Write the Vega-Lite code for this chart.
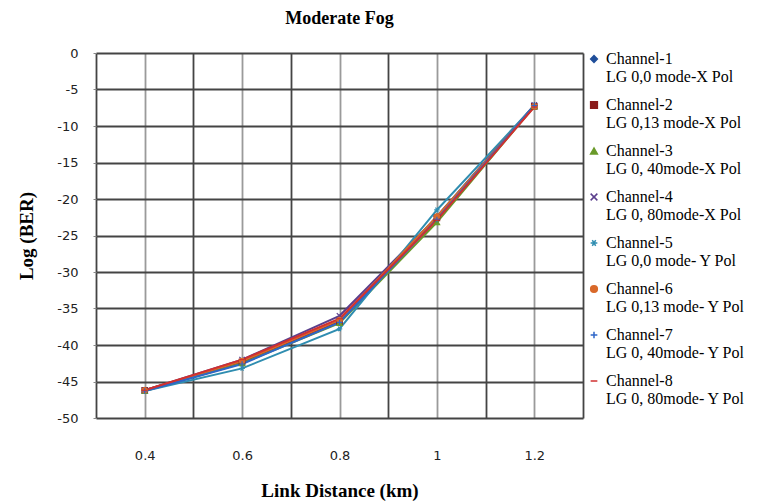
{
  "$schema": "https://vega.github.io/schema/vega-lite/v6.json",
  "autosize": "none",
  "width": 487,
  "height": 365,
  "padding": {"left": 96, "top": 53, "right": 178, "bottom": 83},
  "background": "white",
  "title": {"text": "Moderate Fog", "font": "Liberation Serif", "fontSize": 18, "fontWeight": "bold", "color": "#000", "anchor": "middle", "offset": 19},
  "data": {"values": [
    {"d": 0.4, "ch": "Channel-1", "v": -46.2}, {"d": 0.6, "ch": "Channel-1", "v": -42.3}, {"d": 0.8, "ch": "Channel-1", "v": -36.8}, {"d": 1.0, "ch": "Channel-1", "v": -22.4}, {"d": 1.2, "ch": "Channel-1", "v": -7.2},
    {"d": 0.4, "ch": "Channel-2", "v": -46.2}, {"d": 0.6, "ch": "Channel-2", "v": -42.3}, {"d": 0.8, "ch": "Channel-2", "v": -36.8}, {"d": 1.0, "ch": "Channel-2", "v": -22.6}, {"d": 1.2, "ch": "Channel-2", "v": -7.3},
    {"d": 0.4, "ch": "Channel-3", "v": -46.3}, {"d": 0.6, "ch": "Channel-3", "v": -42.5}, {"d": 0.8, "ch": "Channel-3", "v": -37.0}, {"d": 1.0, "ch": "Channel-3", "v": -23.2}, {"d": 1.2, "ch": "Channel-3", "v": -7.3},
    {"d": 0.4, "ch": "Channel-4", "v": -46.2}, {"d": 0.6, "ch": "Channel-4", "v": -42.0}, {"d": 0.8, "ch": "Channel-4", "v": -36.0}, {"d": 1.0, "ch": "Channel-4", "v": -22.5}, {"d": 1.2, "ch": "Channel-4", "v": -7.1},
    {"d": 0.4, "ch": "Channel-5", "v": -46.3}, {"d": 0.6, "ch": "Channel-5", "v": -43.2}, {"d": 0.8, "ch": "Channel-5", "v": -37.8}, {"d": 1.0, "ch": "Channel-5", "v": -21.5}, {"d": 1.2, "ch": "Channel-5", "v": -7.2},
    {"d": 0.4, "ch": "Channel-6", "v": -46.2}, {"d": 0.6, "ch": "Channel-6", "v": -42.2}, {"d": 0.8, "ch": "Channel-6", "v": -36.6}, {"d": 1.0, "ch": "Channel-6", "v": -22.4}, {"d": 1.2, "ch": "Channel-6", "v": -7.3},
    {"d": 0.4, "ch": "Channel-7", "v": -46.3}, {"d": 0.6, "ch": "Channel-7", "v": -42.6}, {"d": 0.8, "ch": "Channel-7", "v": -36.9}, {"d": 1.0, "ch": "Channel-7", "v": -22.8}, {"d": 1.2, "ch": "Channel-7", "v": -7.2},
    {"d": 0.4, "ch": "Channel-8", "v": -46.2}, {"d": 0.6, "ch": "Channel-8", "v": -42.0}, {"d": 0.8, "ch": "Channel-8", "v": -36.4}, {"d": 1.0, "ch": "Channel-8", "v": -22.9}, {"d": 1.2, "ch": "Channel-8", "v": -7.4}
  ]},
  "encoding": {
    "x": {"field": "d", "type": "quantitative", "scale": {"domain": [0.3, 1.3], "nice": false, "zero": false},
      "axis": {"title": "Link Distance (km)", "values": [0.3, 0.4, 0.5, 0.6, 0.7, 0.8, 0.9, 1.0, 1.1, 1.2, 1.3],
        "labelExpr": "(datum.value > 0.35 && datum.value < 1.25 && abs(round(datum.value*10) % 2) == 0) ? (datum.value == 1 ? '1' : format(datum.value, '.1f')) : ''",
        "domain": false, "ticks": false, "labelPadding": 31, "labelFont": "DejaVu Sans", "labelFontSize": 13, "labelColor": "#222",
        "titleFont": "Liberation Serif", "titleFontSize": 19, "titleFontWeight": "bold", "titleColor": "#000", "titlePadding": 19,
        "grid": true, "gridWidth": 1.8,
        "gridColor": {"condition": {"test": "abs(round(datum.value*10) % 2) == 0", "value": "#9a9a9a"}, "value": "#444444"}}},
    "y": {"field": "v", "type": "quantitative", "scale": {"domain": [-50, 0], "nice": false},
      "axis": {"title": "Log (BER)", "values": [0, -5, -10, -15, -20, -25, -30, -35, -40, -45, -50],
        "labelExpr": "'' + datum.value",
        "domain": false, "ticks": true, "tickSize": 3, "tickColor": "#888", "labelPadding": 15, "labelFont": "DejaVu Sans", "labelFontSize": 13, "labelColor": "#222",
        "titleFont": "Liberation Serif", "titleFontSize": 19, "titleFontWeight": "bold", "titleColor": "#000", "titlePadding": 20,
        "grid": true, "gridWidth": 1.8, "gridColor": "#444444"}},
    "color": {"field": "ch", "type": "nominal",
      "scale": {"domain": ["Channel-1", "Channel-2", "Channel-3", "Channel-4", "Channel-5", "Channel-6", "Channel-7", "Channel-8"],
        "range": ["#1f4e9a", "#8b1c1c", "#6a9a2a", "#5b3f8c", "#2f8db0", "#d9692a", "#2e66c8", "#d03030"]},
      "legend": {"orient": "none", "legendX": 490, "legendY": -2, "title": null,
        "labelExpr": "[datum.label, ['LG 0,0 mode-X Pol','LG 0,13 mode-X Pol','LG 0, 40mode-X Pol','LG 0, 80mode-X Pol','LG 0,0 mode- Y Pol','LG 0,13 mode- Y Pol','LG 0, 40mode- Y Pol','LG 0, 80mode- Y Pol'][toNumber(substring(datum.label, 8)) - 1]]",
        "labelFont": "Liberation Serif", "labelFontSize": 16, "labelColor": "#000", "labelLimit": 300,
        "rowPadding": 12, "symbolSize": 45, "labelOffset": 4}}
  },
  "layer": [
    {"mark": {"type": "line", "strokeWidth": 2}},
    {"mark": {"type": "point", "filled": true, "size": 30, "strokeWidth": 1.2, "opacity": 1},
      "encoding": {
        "shape": {"field": "ch", "type": "nominal",
          "scale": {"domain": ["Channel-1", "Channel-2", "Channel-3", "Channel-4", "Channel-5", "Channel-6", "Channel-7", "Channel-8"],
            "range": ["diamond", "square", "triangle-up", "M-1,-1L1,1M-1,1L1,-1", "M-1,0L1,0M-0.5,-0.87L0.5,0.87M-0.5,0.87L0.5,-0.87", "circle", "M-1,0L1,0M0,-1L0,1", "M-1,0L1,0"]}},
        "stroke": {"field": "ch", "type": "nominal", "legend": null,
          "scale": {"domain": ["Channel-1", "Channel-2", "Channel-3", "Channel-4", "Channel-5", "Channel-6", "Channel-7", "Channel-8"],
            "range": ["#1f4e9a", "#8b1c1c", "#6a9a2a", "#5b3f8c", "#2f8db0", "#d9692a", "#2e66c8", "#d03030"]}}
      }}
  ],
  "config": {"view": {"stroke": null}}
}
